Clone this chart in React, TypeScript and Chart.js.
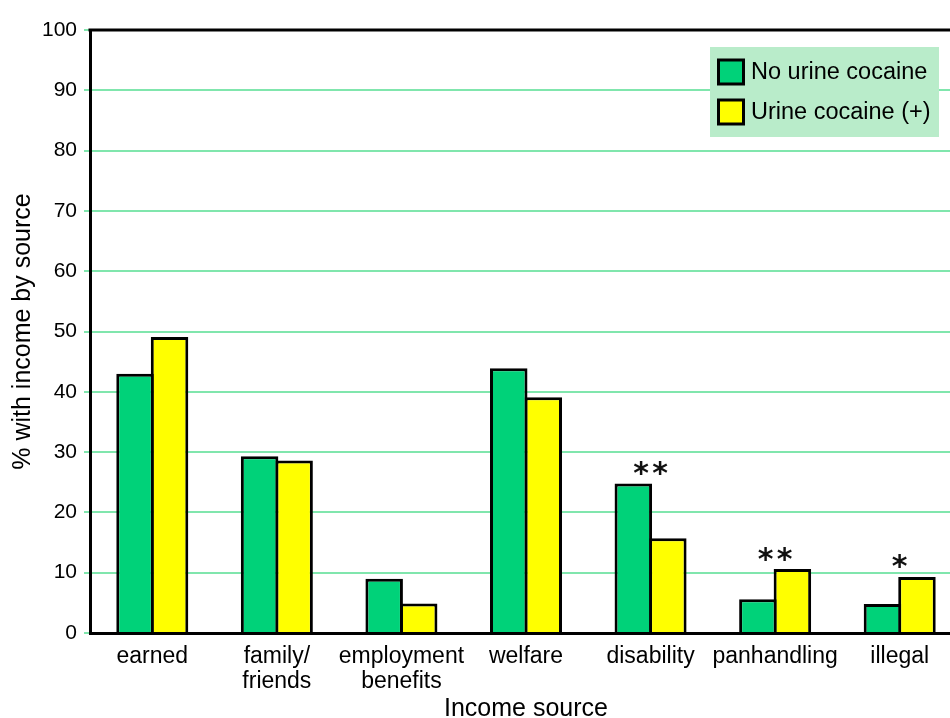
import React, { useEffect, useRef } from "react";
import { Chart, registerables } from "chart.js";

Chart.register(...registerables);

// Income sources (x categories); multi-line labels are arrays
const categories: (string | string[])[] = [
  "earned",
  ["family/", "friends"],
  ["employment", "benefits"],
  "welfare",
  "disability",
  "panhandling",
  "illegal",
];

const seriesNames = ["No urine cocaine", "Urine cocaine (+)"];

// % with income by source
const noCocaine = [43.0, 29.3, 9.0, 43.9, 24.8, 5.6, 4.8];
const cocainePositive = [49.1, 28.6, 4.9, 39.1, 15.7, 10.6, 9.3];

// significance markers above each group
const significance = ["", "", "", "", "**", "**", "*"];

const yTicks = { min: 0, max: 100, step: 10 };

const GREEN = "#00d279";
const YELLOW = "#ffff00";
const GRID = "#80e6ad";
const LEGEND_BG = "#b9ecca";
const TEXT = "#000";
const FONT = "Arial, 'Liberation Sans', sans-serif";

const frameAndNotes = {
  id: "frameAndNotes",
  afterDatasetsDraw(chart: any) {
    const { ctx, chartArea } = chart;
    const xs = chart.scales.x;
    ctx.save();
    // top frame line
    ctx.strokeStyle = "#000";
    ctx.lineWidth = 3;
    ctx.beginPath();
    ctx.moveTo(chartArea.left - 1.5, chartArea.top);
    ctx.lineTo(chartArea.right, chartArea.top);
    ctx.stroke();

    // significance asterisks, one glyph at a time
    ctx.fillStyle = "#111";
    ctx.font = `bold 30px 'DejaVu Sans', sans-serif`;
    ctx.textAlign = "center";
    ctx.textBaseline = "alphabetic";
    const step = 19;
    significance.forEach((mark, i) => {
      if (!mark) return;
      let top = Infinity;
      chart.data.datasets.forEach((_d: any, di: number) => {
        const el = chart.getDatasetMeta(di).data[i];
        if (el) top = Math.min(top, el.y);
      });
      const m = ctx.measureText("*");
      const asc = m.actualBoundingBoxAscent;
      const desc = m.actualBoundingBoxDescent;
      const center = top - 15;
      const baseline = center + (asc - desc) / 2;
      const cx = xs.getPixelForValue(i);
      const n = mark.length;
      for (let k = 0; k < n; k++) {
        ctx.fillText("*", cx + (k - (n - 1) / 2) * step, baseline);
      }
    });

    // legend
    const bx = chartArea.right - 252;
    const by = chartArea.top + 17;
    const bw = 229;
    const bh = 90;
    ctx.fillStyle = LEGEND_BG;
    ctx.fillRect(bx, by, bw, bh);
    const colors = [GREEN, YELLOW];
    ctx.font = `23.5px ${FONT}`;
    ctx.textAlign = "left";
    ctx.textBaseline = "middle";
    seriesNames.forEach((name, i) => {
      const cy = by + 25 + i * 40;
      ctx.fillStyle = colors[i];
      ctx.fillRect(bx + 8.5, cy - 12, 25, 24);
      ctx.strokeStyle = "#000";
      ctx.lineWidth = 3;
      ctx.strokeRect(bx + 8.5, cy - 12, 25, 24);
      ctx.fillStyle = TEXT;
      ctx.fillText(name, bx + 41, cy + 1);
    });
    ctx.restore();
  },
};

export default function App() {
  const ref = useRef<HTMLCanvasElement | null>(null);

  useEffect(() => {
    if (!ref.current) return;
    const chart = new Chart(ref.current, {
      type: "bar",
      data: {
        labels: categories,
        datasets: [
          {
            label: seriesNames[0],
            data: noCocaine,
            backgroundColor: GREEN,
            borderColor: "#000",
            borderWidth: 3,
          },
          {
            label: seriesNames[1],
            data: cocainePositive,
            backgroundColor: YELLOW,
            borderColor: "#000",
            borderWidth: 3,
          },
        ],
      },
      options: {
        responsive: false,
        animation: false,
        layout: { padding: { left: 0, top: 30, right: 0, bottom: 0 } },
        datasets: {
          bar: { categoryPercentage: 0.554, barPercentage: 1.087 },
        },
        plugins: {
          legend: { display: false },
          tooltip: { enabled: false },
        },
        scales: {
          x: {
            grid: { display: false, drawTicks: false },
            border: { display: true, color: "#000", width: 3 },
            ticks: {
              color: TEXT,
              font: { family: FONT, size: 23, lineHeight: 1.1 },
              padding: 11,
              maxRotation: 0,
              autoSkip: false,
            },
            title: {
              display: true,
              text: "Income source",
              color: TEXT,
              font: { family: FONT, size: 25, lineHeight: 0.75 },
              padding: 0,
            },
            afterFit(scale: any) {
              scale.height = 85;
            },
          },
          y: {
            min: yTicks.min,
            max: yTicks.max,
            grid: {
              color: GRID,
              lineWidth: 2,
              tickLength: 6,
              drawTicks: true,
            },
            border: { display: true, color: "#000", width: 3 },
            ticks: {
              stepSize: yTicks.step,
              color: TEXT,
              font: { family: FONT, size: 21 },
              padding: 7,
            },
            title: {
              display: true,
              text: "% with income by source",
              color: TEXT,
              font: { family: FONT, size: 25 },
              padding: { top: 8, bottom: 0 },
            },
            afterFit(scale: any) {
              scale.width = 90;
            },
          },
        },
      },
      plugins: [frameAndNotes],
    });
    return () => chart.destroy();
  }, []);

  return (
    <div
      style={{
        position: "fixed",
        left: 0,
        top: 0,
        width: 950,
        height: 718,
        overflow: "hidden",
        background: "#fff",
      }}
    >
      <canvas ref={ref} width={962} height={718} style={{ display: "block" }} />
    </div>
  );
}
